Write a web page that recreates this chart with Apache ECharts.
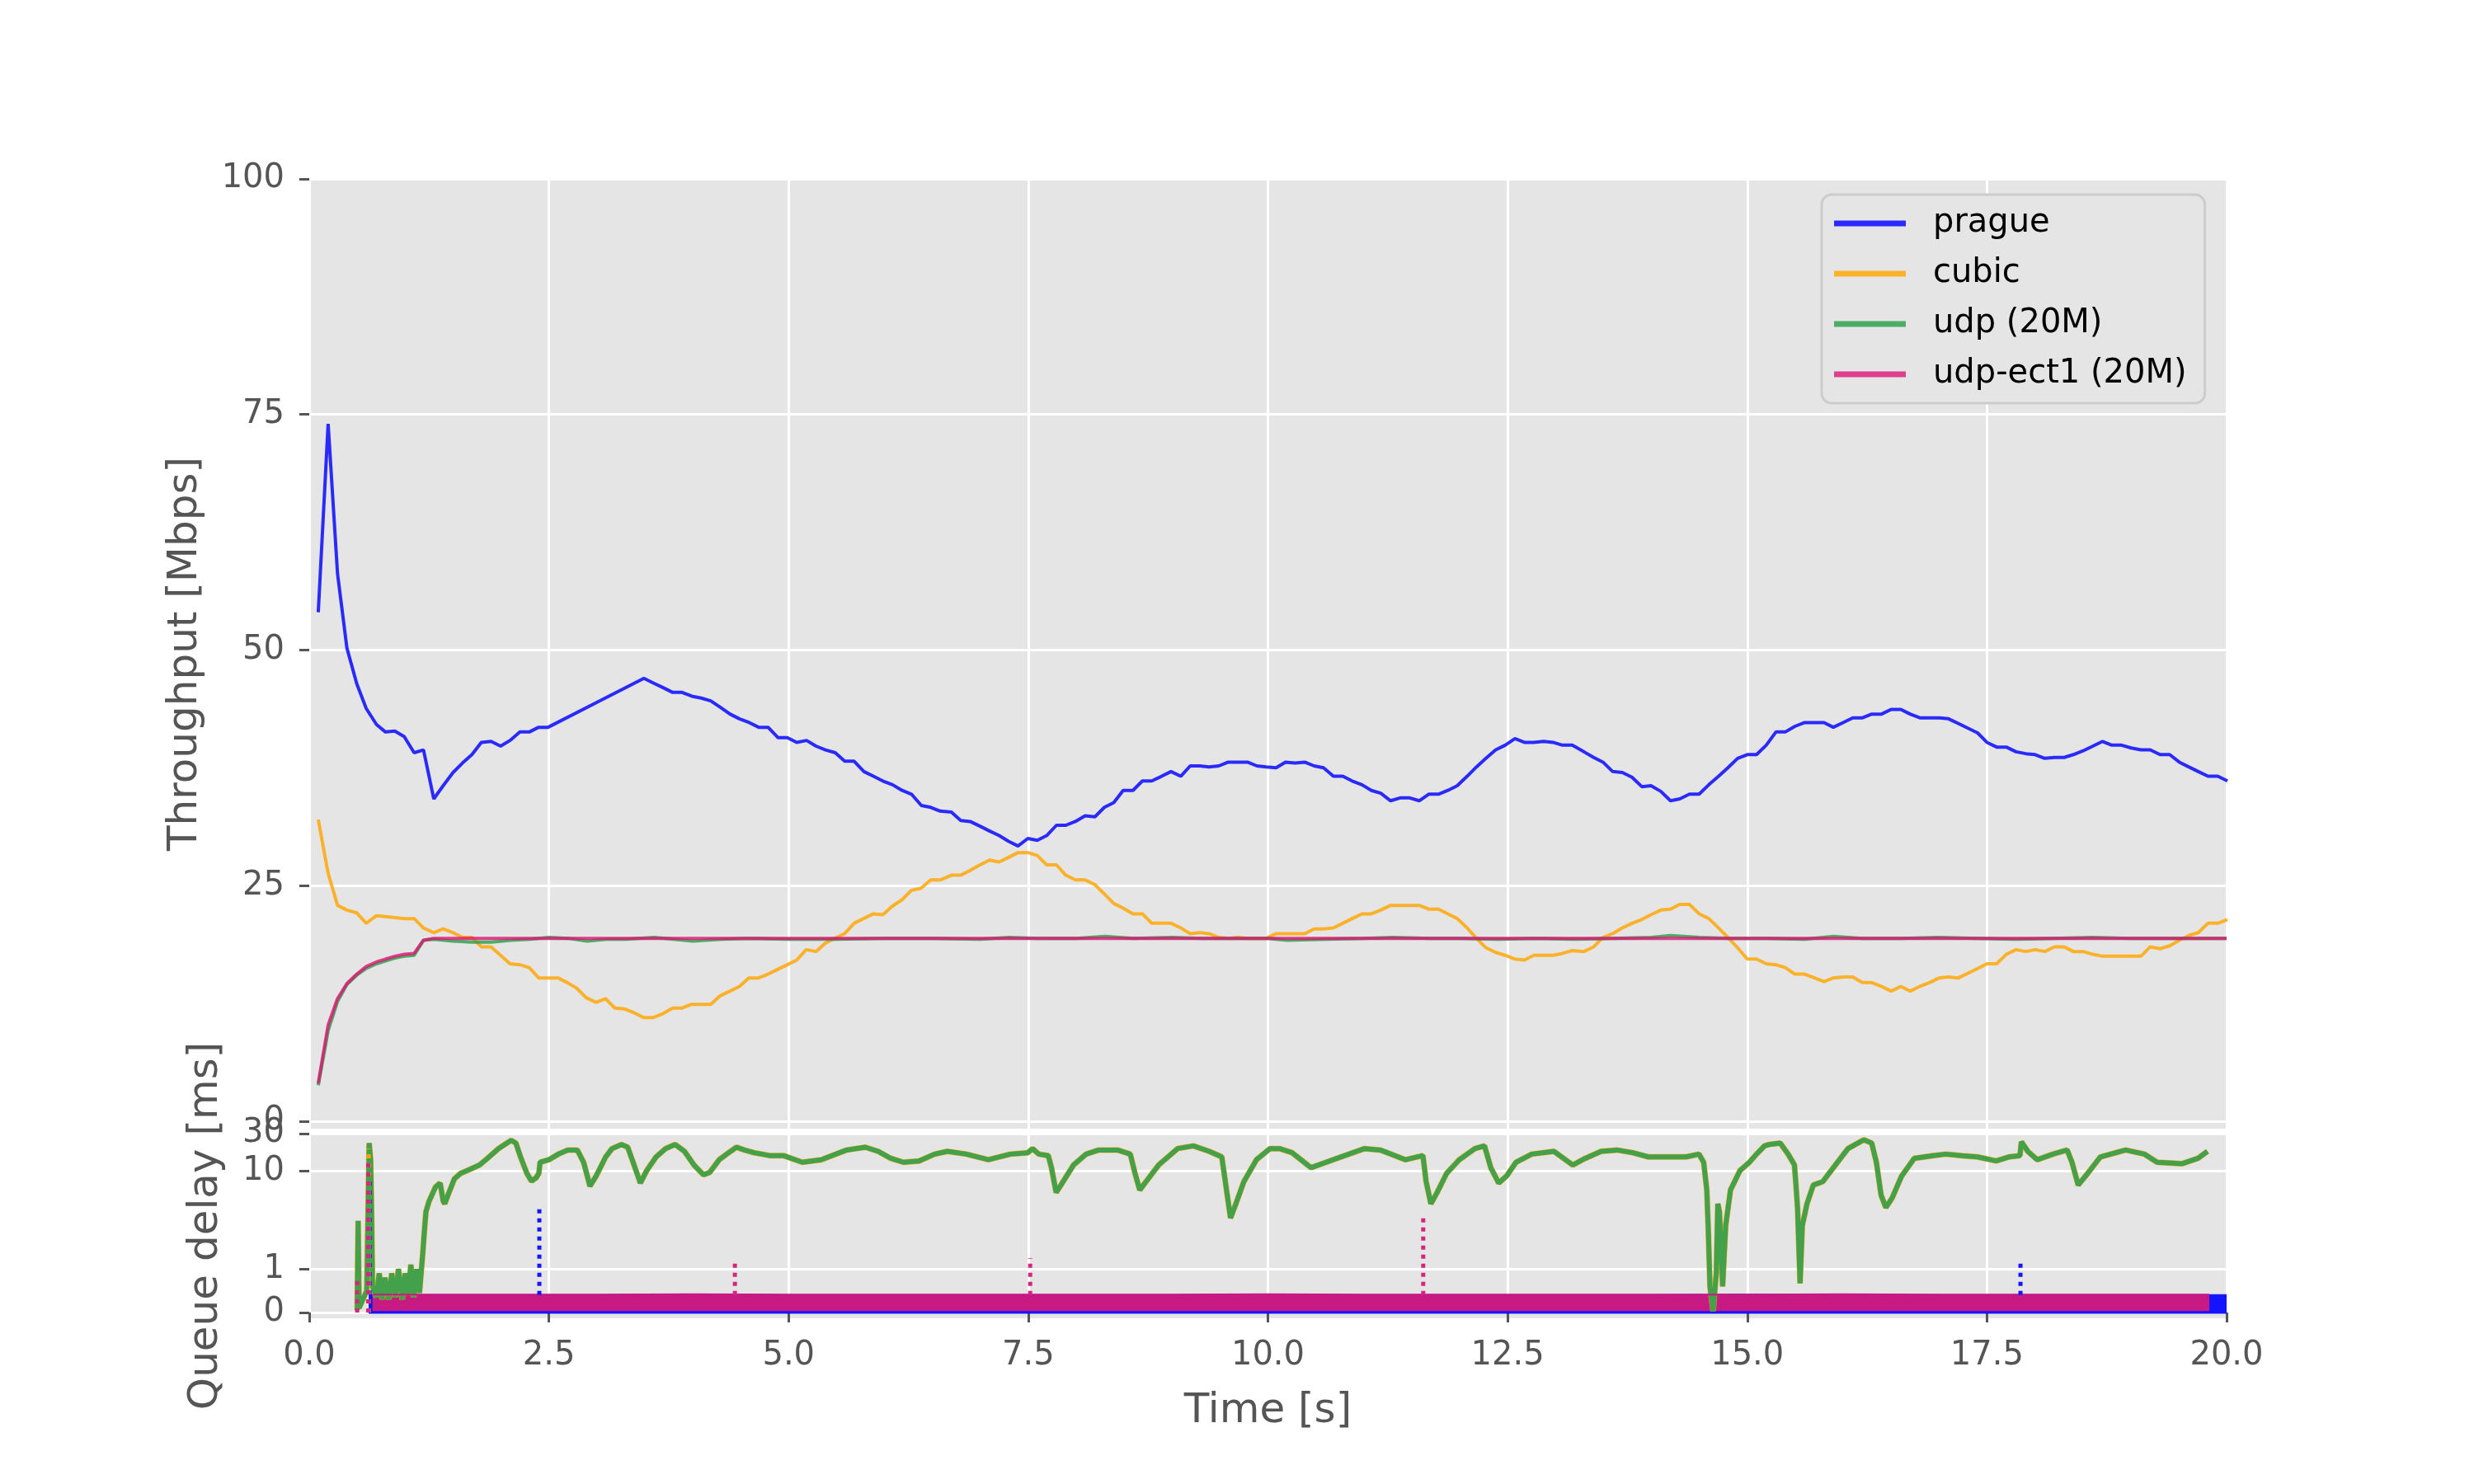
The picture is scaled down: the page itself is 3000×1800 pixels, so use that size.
<!DOCTYPE html>
<html><head><meta charset="utf-8">
<script src="https://cdn.jsdelivr.net/npm/echarts@6/dist/echarts.min.js"></script>
<style>html,body{margin:0;padding:0;background:#fff}#c{width:3000px;height:1800px}</style>
</head><body><div id="c"></div>
<script>
// ---------- data (time [s], value) ----------
const seriesNames = ['prague', 'cubic', 'udp (20M)', 'udp-ect1 (20M)'];
const xTicks = [0, 2.5, 5, 7.5, 10, 12.5, 15, 17.5, 20];
const tputTicks = [0, 25, 50, 75, 100];
const delayTicks = [0, 1, 10, 30];

const pragueTput = [[0.094,54.0],[0.197,74.0],[0.295,58.1],[0.393,50.2],[0.496,46.4],[0.594,43.8],[0.701,42.1],[0.795,41.3],[0.893,41.4],[0.991,40.8],[1.094,39.1],[1.192,39.4],[1.299,34.2],[1.397,35.6],[1.5,37.0],[1.598,38.0],[1.697,38.9],[1.795,40.2],[1.897,40.3],[1.996,39.8],[2.094,40.4],[2.197,41.3],[2.295,41.3],[2.393,41.8],[2.491,41.8],[2.99,44.4],[3.491,47.0],[3.59,46.5],[3.692,46.0],[3.791,45.5],[3.889,45.5],[3.991,45.1],[4.09,44.9],[4.188,44.6],[4.291,43.9],[4.389,43.2],[4.487,42.7],[4.59,42.3],[4.688,41.8],[4.786,41.8],[4.889,40.7],[4.987,40.7],[5.085,40.2],[5.188,40.4],[5.286,39.8],[5.385,39.4],[5.487,39.1],[5.585,38.2],[5.684,38.2],[5.786,37.1],[5.885,36.6],[5.983,36.1],[6.085,35.7],[6.184,35.1],[6.282,34.7],[6.385,33.5],[6.483,33.3],[6.581,32.9],[6.698,32.8],[6.796,31.9],[6.894,31.8],[6.997,31.3],[7.095,30.8],[7.197,30.3],[7.295,29.7],[7.393,29.2],[7.496,30.0],[7.594,29.8],[7.692,30.3],[7.794,31.4],[7.892,31.4],[7.991,31.8],[8.093,32.4],[8.195,32.3],[8.294,33.3],[8.392,33.8],[8.49,35.1],[8.592,35.1],[8.69,36.1],[8.788,36.1],[8.891,36.6],[8.989,37.1],[9.091,36.6],[9.189,37.7],[9.288,37.7],[9.386,37.6],[9.488,37.7],[9.586,38.1],[9.684,38.1],[9.787,38.1],[9.885,37.7],[9.983,37.6],[10.085,37.5],[10.183,38.1],[10.282,38.0],[10.384,38.1],[10.482,37.7],[10.58,37.5],[10.683,36.6],[10.781,36.6],[10.879,36.1],[10.981,35.7],[11.079,35.1],[11.177,34.8],[11.28,34.0],[11.378,34.3],[11.48,34.3],[11.578,34.0],[11.677,34.7],[11.779,34.7],[11.877,35.1],[11.975,35.6],[12.078,36.6],[12.176,37.6],[12.274,38.5],[12.376,39.4],[12.475,39.9],[12.577,40.6],[12.675,40.2],[12.773,40.2],[12.876,40.3],[12.974,40.2],[13.072,39.9],[13.174,39.9],[13.296,39.2],[13.398,38.6],[13.495,38.1],[13.596,37.1],[13.697,37.0],[13.798,36.5],[13.9,35.5],[13.996,35.6],[14.098,35.0],[14.199,34.0],[14.296,34.2],[14.397,34.7],[14.498,34.7],[14.599,35.7],[14.701,36.6],[14.798,37.5],[14.899,38.5],[15.0,38.9],[15.097,38.9],[15.198,39.9],[15.299,41.3],[15.396,41.3],[15.497,41.9],[15.599,42.3],[15.7,42.3],[15.801,42.3],[15.898,41.8],[15.999,42.3],[16.1,42.8],[16.202,42.8],[16.298,43.2],[16.4,43.2],[16.501,43.7],[16.602,43.7],[16.699,43.2],[16.8,42.8],[16.901,42.8],[17.003,42.8],[17.099,42.7],[17.201,42.2],[17.302,41.7],[17.403,41.2],[17.5,40.2],[17.601,39.7],[17.702,39.7],[17.804,39.2],[17.905,39.0],[18.002,38.9],[18.103,38.5],[18.204,38.6],[18.305,38.6],[18.402,38.9],[18.503,39.3],[18.605,39.8],[18.706,40.3],[18.803,39.9],[18.904,39.9],[19.005,39.6],[19.106,39.4],[19.203,39.4],[19.305,38.9],[19.406,38.9],[19.507,38.1],[19.604,37.6],[19.705,37.1],[19.806,36.6],[19.908,36.6],[20.009,36.1]];

const cubicTput = [[0.094,32.0],[0.197,26.3],[0.295,22.9],[0.393,22.4],[0.496,22.1],[0.594,21.0],[0.701,21.8],[0.795,21.7],[0.893,21.6],[0.991,21.5],[1.094,21.5],[1.192,20.5],[1.299,20.0],[1.397,20.4],[1.5,20.0],[1.598,19.5],[1.697,19.5],[1.795,18.5],[1.897,18.5],[1.996,17.6],[2.094,16.7],[2.197,16.6],[2.295,16.3],[2.393,15.2],[2.491,15.2],[2.594,15.2],[2.692,14.7],[2.791,14.1],[2.889,13.1],[2.991,12.6],[3.09,13.0],[3.188,12.0],[3.291,11.9],[3.389,11.5],[3.487,11.0],[3.59,11.0],[3.688,11.4],[3.791,12.0],[3.889,12.0],[3.987,12.4],[4.09,12.4],[4.188,12.4],[4.286,13.3],[4.389,13.8],[4.487,14.3],[4.585,15.2],[4.688,15.2],[4.786,15.6],[4.885,16.1],[4.987,16.6],[5.085,17.1],[5.184,18.2],[5.286,18.0],[5.385,18.9],[5.483,19.4],[5.585,19.9],[5.684,21.0],[5.782,21.5],[5.885,22.0],[5.983,21.9],[6.081,22.8],[6.184,23.5],[6.282,24.5],[6.38,24.7],[6.483,25.6],[6.581,25.6],[6.698,26.1],[6.796,26.1],[6.894,26.6],[6.997,27.2],[7.095,27.7],[7.197,27.5],[7.295,28.0],[7.393,28.5],[7.496,28.5],[7.594,28.2],[7.692,27.2],[7.794,27.2],[7.892,26.1],[7.991,25.6],[8.093,25.6],[8.195,25.1],[8.294,24.1],[8.392,23.1],[8.49,22.6],[8.592,22.0],[8.69,22.0],[8.788,21.0],[8.891,21.0],[8.989,21.0],[9.091,20.5],[9.189,19.9],[9.288,20.0],[9.386,19.9],[9.488,19.5],[9.586,19.4],[9.684,19.5],[9.787,19.4],[9.885,19.4],[9.983,19.4],[10.085,19.9],[10.183,19.9],[10.282,19.9],[10.384,19.9],[10.482,20.4],[10.58,20.4],[10.683,20.5],[10.781,21.0],[10.879,21.5],[10.981,22.0],[11.079,22.0],[11.177,22.4],[11.28,22.9],[11.378,22.9],[11.48,22.9],[11.578,22.9],[11.677,22.5],[11.779,22.5],[11.877,22.0],[11.975,21.5],[12.078,20.5],[12.176,19.4],[12.274,18.4],[12.376,17.9],[12.475,17.6],[12.577,17.2],[12.675,17.1],[12.773,17.6],[12.876,17.6],[12.974,17.6],[13.072,17.8],[13.174,18.1],[13.296,18.0],[13.398,18.5],[13.495,19.5],[13.596,19.9],[13.697,20.5],[13.798,21.0],[13.9,21.4],[13.996,21.9],[14.098,22.4],[14.199,22.5],[14.296,23.0],[14.397,23.0],[14.498,22.0],[14.599,21.5],[14.701,20.5],[14.798,19.5],[14.899,18.4],[15.0,17.2],[15.097,17.2],[15.198,16.7],[15.299,16.6],[15.396,16.3],[15.497,15.6],[15.599,15.6],[15.7,15.2],[15.801,14.8],[15.898,15.2],[15.999,15.3],[16.1,15.3],[16.202,14.7],[16.298,14.7],[16.4,14.3],[16.501,13.8],[16.602,14.3],[16.699,13.8],[16.8,14.3],[16.901,14.7],[17.003,15.2],[17.099,15.3],[17.201,15.2],[17.302,15.7],[17.403,16.2],[17.5,16.7],[17.601,16.7],[17.702,17.7],[17.804,18.2],[17.905,18.0],[18.002,18.2],[18.103,18.0],[18.204,18.5],[18.305,18.5],[18.402,18.0],[18.503,18.0],[18.605,17.7],[18.706,17.5],[18.803,17.5],[18.904,17.5],[19.005,17.5],[19.106,17.5],[19.203,18.5],[19.305,18.3],[19.406,18.6],[19.507,19.2],[19.604,19.7],[19.705,20.0],[19.806,21.0],[19.908,21.0],[20.009,21.4]];

const udpTput = [[0.094,3.8],[0.197,9.6],[0.295,12.7],[0.393,14.5],[0.496,15.5],[0.594,16.2],[0.701,16.7],[0.795,17.0],[0.893,17.3],[0.991,17.5],[1.094,17.6],[1.192,19.2],[1.299,19.3],[1.5,19.1],[1.7,19.0],[1.9,19.0],[2.1,19.2],[2.3,19.3],[2.5,19.5],[2.7,19.4],[2.9,19.1],[3.1,19.3],[3.3,19.3],[3.6,19.5],[3.8,19.3],[4.0,19.1],[4.3,19.3],[4.6,19.4],[5.0,19.3],[5.5,19.3],[6.0,19.4],[6.5,19.4],[7.0,19.3],[7.3,19.5],[7.6,19.4],[8.0,19.4],[8.3,19.6],[8.6,19.4],[9.0,19.5],[9.3,19.4],[9.6,19.4],[10.0,19.4],[10.2,19.2],[10.6,19.3],[11.0,19.4],[11.3,19.5],[11.7,19.4],[12.0,19.4],[12.4,19.3],[12.8,19.4],[13.2,19.3],[13.6,19.4],[14.0,19.5],[14.2,19.7],[14.5,19.5],[14.8,19.4],[15.2,19.4],[15.6,19.3],[15.9,19.6],[16.2,19.4],[16.6,19.4],[17.0,19.5],[17.4,19.4],[17.8,19.3],[18.2,19.4],[18.6,19.5],[19.0,19.4],[19.4,19.4],[19.8,19.4],[20.0,19.4]];

const ect1Tput = [[0.094,4.0],[0.197,10.2],[0.295,13.0],[0.393,14.6],[0.496,15.6],[0.594,16.4],[0.701,16.9],[0.795,17.2],[0.893,17.5],[0.991,17.7],[1.094,17.8],[1.192,19.2],[1.299,19.4],[2,19.4],[3,19.4],[4,19.4],[5,19.4],[6,19.4],[7,19.4],[8,19.4],[9,19.4],[10,19.4],[11,19.4],[12,19.4],[13,19.4],[14,19.4],[15,19.4],[16,19.4],[17,19.4],[18,19.4],[19,19.4],[20,19.4]];

// queue delay [ms]
const udpDelay = [[0.50,0.05],[0.51,2.3],[0.52,0.1],[0.60,0.5],[0.625,22.7],[0.64,13.9],[0.65,3.0],[0.66,0.6],[0.70,0.35],[0.73,0.9],[0.76,0.3],[0.79,0.8],[0.83,0.3],[0.86,0.9],[0.90,0.35],[0.93,1.0],[0.97,0.3],[1.00,0.9],[1.03,0.4],[1.06,1.1],[1.09,0.35],[1.12,1.0],[1.15,0.45],[1.184,1.36],[1.201,1.87],[1.217,3.0],[1.25,4.1],[1.316,6.2],[1.365,7.0],[1.398,4.1],[1.414,3.8],[1.447,4.9],[1.48,6.2],[1.513,7.9],[1.579,9.3],[1.678,10.5],[1.776,11.9],[1.842,13.9],[1.974,19.3],[2.105,24.6],[2.155,22.7],[2.204,15.1],[2.27,9.3],[2.319,7.4],[2.368,8.2],[2.395,9.3],[2.408,12.9],[2.5,13.9],[2.599,16.4],[2.697,18.5],[2.796,18.5],[2.862,12.9],[2.928,6.4],[2.993,8.6],[3.092,15.1],[3.158,19.3],[3.257,21.8],[3.322,20.1],[3.388,11.9],[3.454,7.0],[3.52,10.1],[3.618,15.1],[3.717,19.3],[3.816,21.8],[3.914,17.8],[4.013,11.9],[4.112,8.9],[4.178,9.6],[4.276,13.9],[4.375,17.1],[4.457,20.1],[4.539,18.5],[4.638,17.1],[4.803,15.7],[4.946,15.7],[5.143,12.9],[5.34,13.9],[5.604,18.5],[5.801,20.1],[5.933,17.8],[6.064,14.5],[6.196,12.9],[6.36,13.4],[6.525,16.4],[6.657,17.8],[6.854,16.4],[7.084,13.9],[7.314,16.4],[7.495,17.1],[7.545,19.3],[7.61,16.4],[7.709,15.7],[7.742,11.0],[7.791,5.3],[7.841,6.6],[7.972,11.9],[8.104,16.4],[8.235,18.5],[8.433,18.5],[8.564,16.4],[8.614,9.3],[8.663,5.7],[8.729,7.3],[8.86,11.9],[9.058,19.3],[9.222,20.9],[9.387,17.8],[9.519,15.1],[9.568,5.7],[9.61,2.5],[9.666,3.8],[9.749,7.3],[9.88,13.9],[10.022,19.3],[10.12,19.3],[10.252,17.1],[10.45,11.0],[10.68,13.9],[11.009,19.3],[11.173,18.5],[11.436,13.9],[11.617,15.7],[11.65,7.3],[11.7,3.8],[11.765,5.3],[11.864,9.3],[11.996,13.9],[12.16,19.3],[12.259,20.9],[12.325,11.0],[12.407,7.0],[12.489,8.6],[12.588,12.9],[12.752,16.4],[12.983,17.8],[13.18,11.9],[13.311,14.5],[13.476,17.8],[13.64,18.5],[13.805,17.1],[13.969,15.1],[14.166,15.1],[14.364,15.1],[14.496,16.4],[14.545,12.9],[14.578,5.7],[14.594,1.87],[14.611,0.6],[14.644,0.03],[14.677,0.9],[14.693,3.8],[14.71,3.0],[14.743,0.6],[14.775,2.0],[14.825,5.7],[14.924,10.1],[15.022,12.9],[15.097,16.4],[15.18,20.9],[15.229,21.8],[15.344,22.7],[15.426,16.4],[15.492,11.9],[15.508,6.6],[15.525,3.3],[15.551,0.67],[15.574,2.0],[15.623,3.8],[15.689,6.6],[15.788,7.3],[15.919,11.9],[16.051,19.3],[16.215,25.0],[16.298,22.7],[16.347,12.9],[16.396,4.9],[16.446,3.4],[16.511,4.5],[16.61,8.6],[16.742,14.5],[16.939,15.7],[17.071,16.4],[17.235,15.7],[17.4,15.1],[17.597,13.4],[17.729,15.1],[17.844,15.7],[17.86,23.6],[17.926,17.8],[18.025,13.9],[18.189,16.4],[18.337,18.5],[18.387,12.9],[18.452,6.6],[18.551,9.3],[18.683,15.1],[18.946,18.5],[19.143,16.4],[19.275,12.9],[19.538,12.4],[19.702,14.5],[19.801,17.8]];
// cubic shares the classic queue with udp: its delay trace lies under the udp trace
const cubicDelay = udpDelay;
// upper edge of the dense low-delay packet clouds (L4S queue)
const pragueDelayTop = [[0.62,0.41],[1,0.41],[2,0.41],[3,0.41],[4,0.42],[5,0.41],[6,0.41],[7,0.41],[8,0.41],[9,0.41],[10,0.42],[11,0.41],[12,0.41],[13,0.41],[14,0.41],[15,0.42],[16,0.41],[17,0.41],[18,0.41],[19,0.41],[20,0.41]];
const ect1DelayTop = [[0.66,0.41],[1,0.41],[2,0.41],[3,0.41],[4,0.42],[5,0.41],[6,0.41],[7,0.41],[8,0.41],[9,0.41],[10,0.42],[11,0.41],[12,0.41],[13,0.41],[14,0.41],[15,0.41],[16,0.42],[17,0.41],[18,0.41],[19,0.41],[19.82,0.41]];
// isolated delay spikes: [time, from, to] in ms
const pragueSpikes = [[0.63,0,8.6],[2.40,0.4,3.4],[17.85,0.4,1.14]];
const cubicSpikes = [[0.62,0,19.3]];
const ect1Spikes = [[0.50,0,0.8],[0.615,0,12.9],[4.44,0.4,1.14],[7.52,0.4,1.25],[11.62,0.4,2.5]];

// ---------- styling ----------
const FONT = 'DejaVu Sans';
const C = {
  prague: 'rgba(0,0,255,0.82)', cubic: 'rgba(255,165,0,0.82)',
  udp: 'rgba(43,160,75,0.82)', ect1: 'rgba(219,22,115,0.8)'
};
// symmetric log transform (linthresh 2, linscale 1, base 10)
const LT = 2, LS = 1 / (1 - 1 / 10);
function symlog(v) { const a = Math.abs(v), s = Math.sign(v); return a <= LT ? v * LS : s * LT * (LS + Math.log10(a / LT)); }
const tr = arr => arr.map(p => [p[0], symlog(p[1])]);
const delayTickPos = delayTicks.map(symlog);

function spikeSeries(list, color, name) {
  return list.map((s, i) => ({
    name: name + '-spike' + i, type: 'line', xAxisIndex: 1, yAxisIndex: 1,
    data: [[s[0], symlog(s[1])], [s[0], symlog(s[2])]],
    showSymbol: false, silent: true, animation: false,
    lineStyle: { color: color, width: 5, type: [5, 6], cap: 'butt' }
  }));
}

const axisLabelStyle = { fontFamily: FONT, fontSize: 40, color: '#555555' };
const nameStyle = { fontFamily: FONT, fontSize: 50, color: '#555555' };
const gridLine = { show: true, lineStyle: { color: '#FFFFFF', width: 3 } };
const tickStyle = { show: true, length: 12, lineStyle: { color: '#555555', width: 3 } };

const option = {
  animation: false,
  backgroundColor: '#FFFFFF',
  grid: [
    { left: 375, top: 217, width: 2325, height: 1152, show: true, backgroundColor: '#E5E5E5', borderWidth: 0 },
    { left: 375, top: 1375, width: 2325, height: 224, show: true, backgroundColor: '#E5E5E5', borderWidth: 0 }
  ],
  xAxis: [
    { type: 'value', gridIndex: 0, min: 0, max: 20, interval: 2.5, axisLine: { show: false },
      axisTick: { show: false }, axisLabel: { show: false }, splitLine: gridLine },
    { type: 'value', gridIndex: 1, min: 0, max: 20, interval: 2.5, axisLine: { show: false },
      axisTick: tickStyle, splitLine: gridLine,
      axisLabel: Object.assign({ margin: 26, formatter: v => v.toFixed(1) }, axisLabelStyle),
      name: 'Time [s]', nameLocation: 'middle', nameGap: 88, nameTextStyle: nameStyle }
  ],
  yAxis: [
    { type: 'value', gridIndex: 0, min: -0.8, max: 100, axisLine: { show: false },
      axisTick: Object.assign({ customValues: tputTicks }, tickStyle),
      axisLabel: Object.assign({ margin: 30, customValues: tputTicks, formatter: v => String(Math.round(v)) }, axisLabelStyle),
      splitLine: gridLine,
      name: 'Throughput [Mbps]', nameLocation: 'middle', nameGap: 125, nameTextStyle: nameStyle },
    { type: 'value', gridIndex: 1, min: -0.15, max: symlog(30), axisLine: { show: false },
      axisTick: Object.assign({ customValues: delayTickPos }, tickStyle),
      axisLabel: Object.assign({ margin: 30, customValues: delayTickPos,
        formatter: v => { let best = 0; delayTickPos.forEach((p, i) => { if (Math.abs(p - v) < Math.abs(delayTickPos[best] - v)) best = i; }); return String(delayTicks[best]); } }, axisLabelStyle),
      splitLine: gridLine,
      name: 'Queue delay [ms]', nameLocation: 'middle', nameGap: 100, nameTextStyle: nameStyle }
  ],
  legend: {
    data: seriesNames, left: 2209, top: 236, orient: 'vertical', icon: 'rect',
    itemWidth: 87, itemHeight: 7, itemGap: 13, padding: [11, 22, 11, 15],
    backgroundColor: '#E5E5E5', borderColor: '#CCCCCC', borderWidth: 3, borderRadius: 12,
    selectedMode: false,
    textStyle: { fontFamily: FONT, fontSize: 40, color: '#000000', lineHeight: 48, padding: [0, 0, 0, 28] }
  },
  series: [
    { name: seriesNames[0], type: 'line', xAxisIndex: 0, yAxisIndex: 0, data: pragueTput, showSymbol: false,
      lineStyle: { color: C.prague, width: 4 }, itemStyle: { color: C.prague } },
    { name: seriesNames[1], type: 'line', xAxisIndex: 0, yAxisIndex: 0, data: cubicTput, showSymbol: false,
      lineStyle: { color: C.cubic, width: 4 }, itemStyle: { color: C.cubic } },
    { name: seriesNames[2], type: 'line', xAxisIndex: 0, yAxisIndex: 0, data: udpTput, showSymbol: false,
      lineStyle: { color: C.udp, width: 4 }, itemStyle: { color: C.udp } },
    { name: seriesNames[3], type: 'line', xAxisIndex: 0, yAxisIndex: 0, data: ect1Tput, showSymbol: false,
      lineStyle: { color: C.ect1, width: 4 }, itemStyle: { color: C.ect1 } },

    { name: 'prague-delay', type: 'line', xAxisIndex: 1, yAxisIndex: 1, data: tr(pragueDelayTop), showSymbol: false, silent: true,
      lineStyle: { color: '#1414FF', width: 1 }, areaStyle: { color: '#1414FF', opacity: 1, origin: symlog(-0.03) } },
    { name: 'cubic-delay', type: 'line', xAxisIndex: 1, yAxisIndex: 1, data: tr(cubicDelay), showSymbol: false, silent: true,
      lineStyle: { color: 'rgba(255,165,0,0.85)', width: 7 } },
    { name: 'udp-delay', type: 'line', xAxisIndex: 1, yAxisIndex: 1, data: tr(udpDelay), showSymbol: false, silent: true,
      lineStyle: { color: '#43A04B', width: 6 } },
    { name: 'ect1-delay', type: 'line', xAxisIndex: 1, yAxisIndex: 1, data: tr(ect1DelayTop), showSymbol: false, silent: true,
      lineStyle: { color: '#C71A82', width: 2 }, areaStyle: { color: '#C71A82', opacity: 1, origin: symlog(0.03) } }
  ].concat(spikeSeries(pragueSpikes, '#1414FF', 'prague'))
   .concat(spikeSeries(cubicSpikes, '#FFA500', 'cubic'))
   .concat(spikeSeries(ect1Spikes, '#D6257F', 'ect1'))
};

const chart = echarts.init(document.getElementById('c'), null, { renderer: 'canvas', width: 3000, height: 1800 });
chart.setOption(option);
</script></body></html>
